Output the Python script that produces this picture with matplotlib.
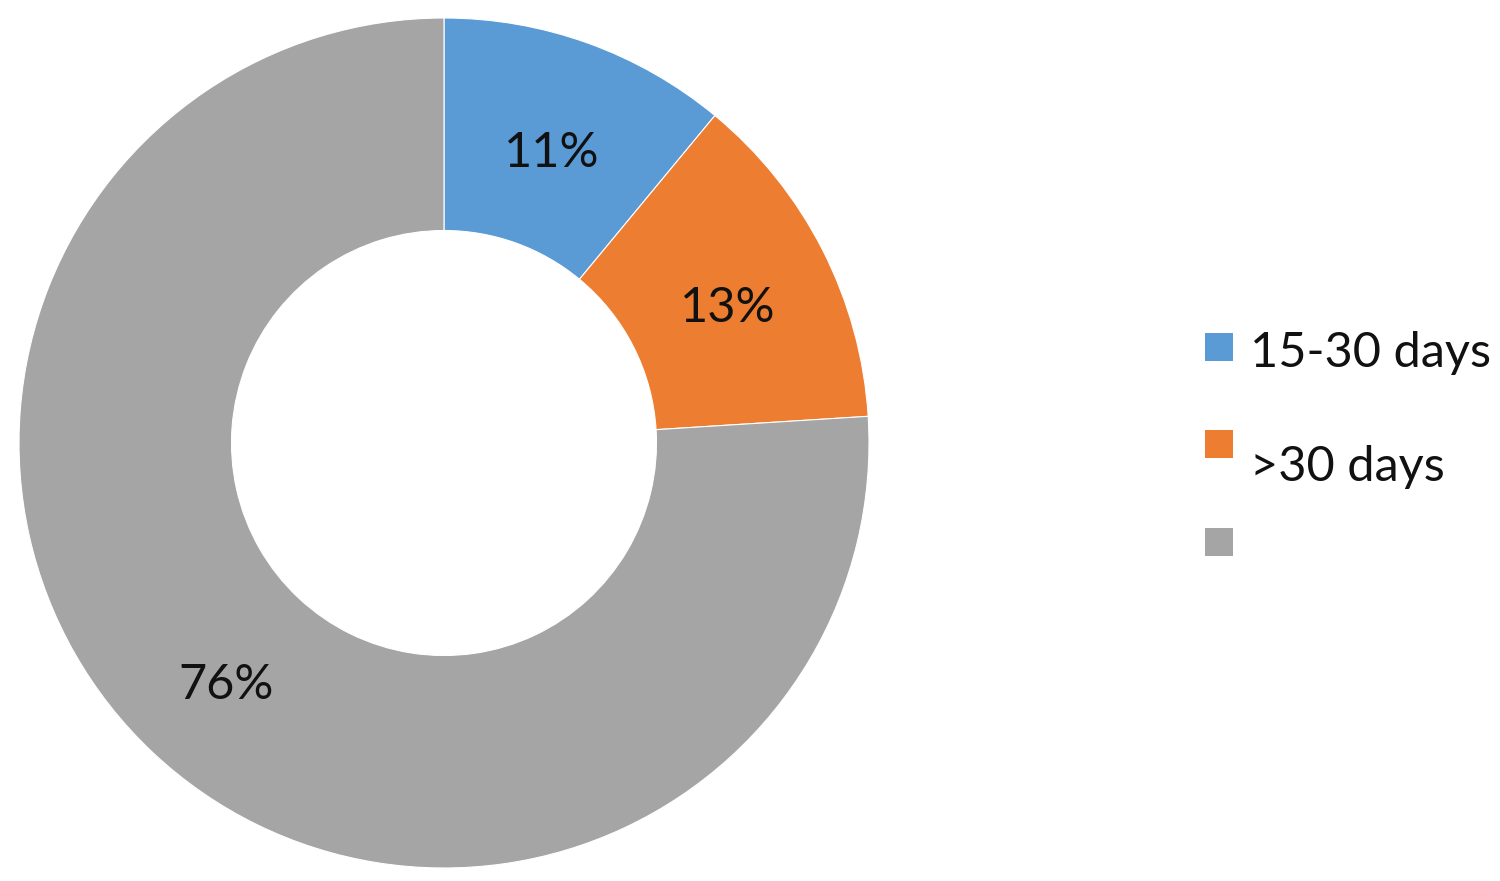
import matplotlib.pyplot as plt
import matplotlib.transforms as mtrans
from matplotlib.patches import Rectangle

# data
labels = ['15-30 days', '>30 days', '']
values = [11, 13, 76]
colors = ['#5B9BD5', '#ED7D31', '#A5A5A5']

plt.rcParams['font.family'] = ['Lato', 'DejaVu Sans']

W, H = 1500, 881
fig = plt.figure(figsize=(W / 100, H / 100), dpi=100)

# donut: center (444, 443) px, outer radius 425 px
cx, cy, R = 444, 443, 425
ax = fig.add_axes([(cx - R) / W, (H - cy - R) / H, 2 * R / W, 2 * R / H])
wedges, texts, autotexts = ax.pie(
    values, colors=colors, startangle=90, counterclock=False,
    radius=1.0, wedgeprops=dict(width=0.5, edgecolor='white', linewidth=0.8),
    autopct='%.0f%%', pctdistance=0.75,
    textprops=dict(fontsize=35, color='#111111'))
# the labels sit a little low in the original
shift = mtrans.ScaledTranslation(0, -10 / 100, fig.dpi_scale_trans)
for t in autotexts:
    t.set_transform(t.get_transform() + shift)
ax.set_xlim(-1, 1)
ax.set_ylim(-1, 1)
ax.set_aspect('equal')
ax.axis('off')

# legend, drawn by hand to match placement
sq_y = [347, 444, 542]
txt_y = [353, 467, 542]
for lab, col, sy, ty in zip(labels, colors, sq_y, txt_y):
    fig.patches.append(Rectangle((1205 / W, (H - sy - 14) / H), 28 / W, 28 / H,
                                 transform=fig.transFigure, facecolor=col,
                                 edgecolor='none'))
    fig.text(1250 / W, (H - ty) / H, lab, fontsize=35, va='center',
             ha='left', color='#111111')

fig.savefig('out.png', dpi=100)
